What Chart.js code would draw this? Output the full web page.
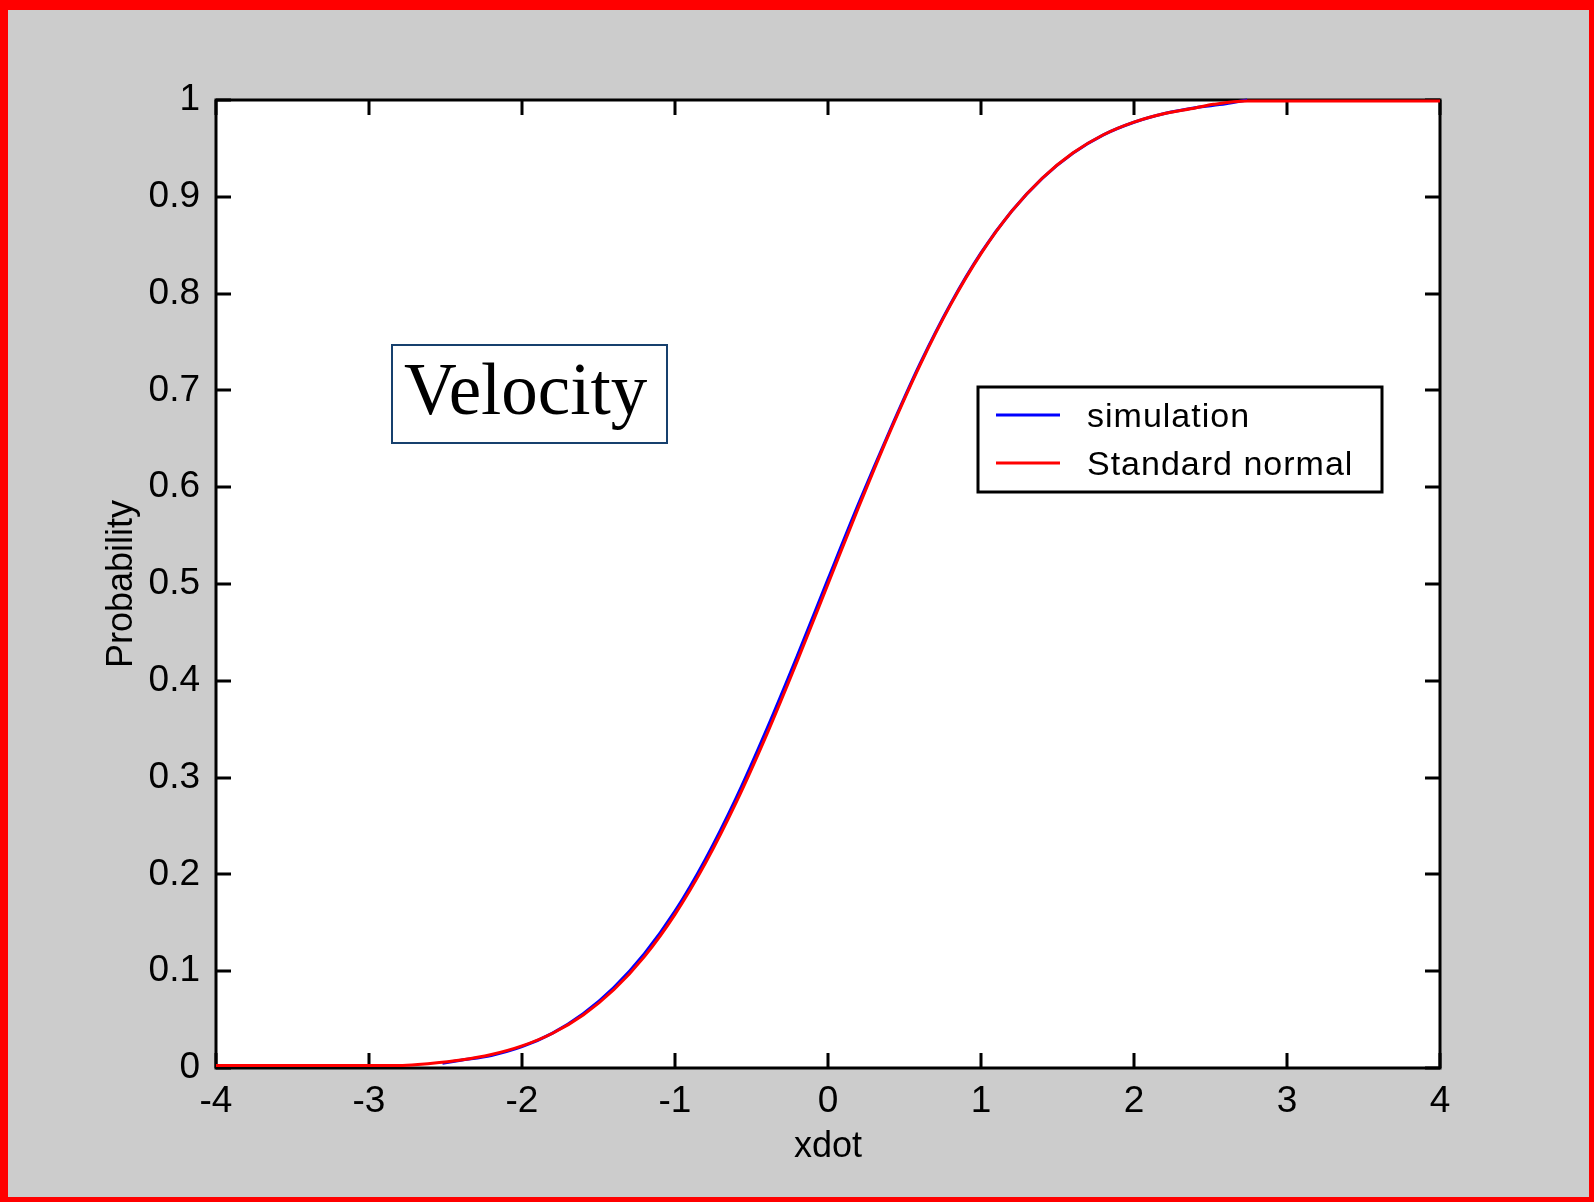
<!DOCTYPE html>
<html>
<head>
<meta charset="utf-8">
<script src="https://cdn.jsdelivr.net/npm/chart.js@4"></script>
<style>
  html, body { margin: 0; padding: 0; background: #cccccc; }
  #wrap { width: 1594px; height: 1202px; }
</style>
</head>
<body>
<div id="wrap"><canvas id="cdf" width="1594" height="1202"></canvas></div>
<script>
// Empirical CDF from the simulation (blue)
const simX = [-2.52, -2.4, -2.2, -2.0, -1.8, -1.6, -1.4, -1.2, -1.0, -0.8, -0.6, -0.4, -0.2, 0.0,
              0.2, 0.4, 0.6, 0.8, 1.0, 1.2, 1.4, 1.6, 1.8, 2.0, 2.2, 2.4, 2.6, 2.74];
const simY = [0.005, 0.008, 0.013, 0.022, 0.036, 0.056, 0.083, 0.118, 0.162, 0.216, 0.279, 0.350, 0.426, 0.505,
              0.583, 0.657, 0.727, 0.789, 0.842, 0.885, 0.919, 0.945, 0.964, 0.977, 0.986, 0.992, 0.996, 1.0];

// Standard normal CDF
const normX = [-4.0, -2.78, -2.6, -2.4, -2.2, -2.0, -1.8, -1.6, -1.4, -1.2, -1.0, -0.8, -0.6, -0.4, -0.2, 0.0,
               0.2, 0.4, 0.6, 0.8, 1.0, 1.2, 1.4, 1.6, 1.8, 2.0, 2.2, 2.4, 2.52, 2.74, 4.0];
const normY = [0.0027, 0.0027, 0.0047, 0.0082, 0.0139, 0.0228, 0.0359, 0.0548, 0.0808, 0.1151, 0.1587, 0.2119, 0.2743, 0.3446, 0.4207, 0.5,
               0.5793, 0.6554, 0.7257, 0.7881, 0.8413, 0.8849, 0.9192, 0.9452, 0.9641, 0.9772, 0.9861, 0.9918, 0.9955, 0.999, 0.999];

// Axes
const xTicks = [-4, -3, -2, -1, 0, 1, 2, 3, 4];
const xTickLabels = ["-4", "-3", "-2", "-1", "0", "1", "2", "3", "4"];
const yTicks = [0, 0.1, 0.2, 0.3, 0.4, 0.5, 0.6, 0.7, 0.8, 0.9, 1];
const yTickLabels = ["0", "0.1", "0.2", "0.3", "0.4", "0.5", "0.6", "0.7", "0.8", "0.9", "1"];

const seriesNames = ["simulation", "Standard normal"];
const seriesColors = ["#0000ff", "#ff0000"];

const toPoints = (xs, ys) => xs.map((v, i) => ({ x: v, y: ys[i] }));

const tickFont = { family: "Liberation Sans", size: 37 };
const labelFont = { family: "Liberation Sans", size: 36 };

// background, frame, inward ticks, legend and the Velocity box
const matlabFrame = {
  id: "matlabFrame",
  beforeDraw(chart) {
    const ctx = chart.ctx;
    const a = chart.chartArea;
    ctx.save();
    ctx.fillStyle = "#ff0000";
    ctx.fillRect(0, 0, chart.width, chart.height);
    ctx.fillStyle = "#cccccc";
    ctx.fillRect(8, 10, chart.width - 13, chart.height - 15);
    ctx.fillStyle = "#ffffff";
    ctx.fillRect(a.left, a.top, a.right - a.left, a.bottom - a.top);
    ctx.restore();
  },
  beforeDatasetsDraw(chart) {
    const { ctx, chartArea: a, scales: { x, y } } = chart;
    ctx.save();
    ctx.strokeStyle = "#000";
    ctx.lineWidth = 3;
    ctx.strokeRect(a.left, a.top, a.right - a.left, a.bottom - a.top);
    ctx.beginPath();
    x.ticks.forEach(t => {
      const px = Math.round(x.getPixelForValue(t.value));
      ctx.moveTo(px, a.bottom); ctx.lineTo(px, a.bottom - 15);
      ctx.moveTo(px, a.top); ctx.lineTo(px, a.top + 15);
    });
    y.ticks.forEach(t => {
      const py = Math.round(y.getPixelForValue(t.value));
      ctx.moveTo(a.left, py); ctx.lineTo(a.left + 15, py);
      ctx.moveTo(a.right, py); ctx.lineTo(a.right - 15, py);
    });
    ctx.stroke();
    ctx.restore();
  },
  afterDraw(chart) {
    const ctx = chart.ctx;
    ctx.save();
    // Velocity annotation
    ctx.fillStyle = "#ffffff";
    ctx.fillRect(392, 345, 275, 98);
    ctx.strokeStyle = "#17406d";
    ctx.lineWidth = 2;
    ctx.strokeRect(392, 345, 275, 98);
    ctx.fillStyle = "#000";
    ctx.font = "73px 'Liberation Serif'";
    ctx.textBaseline = "alphabetic";
    ctx.fillText("Velocity", 404, 414);

    // legend
    ctx.fillStyle = "#ffffff";
    ctx.fillRect(978, 387, 404, 105);
    ctx.strokeStyle = "#000";
    ctx.lineWidth = 3;
    ctx.strokeRect(978, 387, 404, 105);
    const rows = [415, 463];
    ctx.font = "34px 'Liberation Sans'";
    ctx.letterSpacing = "1px";
    seriesNames.forEach((name, i) => {
      ctx.strokeStyle = seriesColors[i];
      ctx.lineWidth = 3;
      ctx.beginPath();
      ctx.moveTo(996, rows[i]);
      ctx.lineTo(1060, rows[i]);
      ctx.stroke();
      ctx.fillStyle = "#000";
      ctx.fillText(name, 1087, rows[i] + 12);
    });
    ctx.restore();
  }
};

new Chart(document.getElementById("cdf"), {
  type: "line",
  data: {
    datasets: [
      {
        label: seriesNames[0],
        data: toPoints(simX, simY),
        borderColor: seriesColors[0],
        borderWidth: 3,
        pointRadius: 0,
        cubicInterpolationMode: "monotone",
        clip: false,
        order: 2
      },
      {
        label: seriesNames[1],
        data: toPoints(normX, normY),
        borderColor: seriesColors[1],
        borderWidth: 3,
        pointRadius: 0,
        cubicInterpolationMode: "monotone",
        clip: false,
        order: 1
      }
    ]
  },
  options: {
    responsive: false,
    devicePixelRatio: 1,
    animation: false,
    layout: { padding: { left: 100, top: 100, right: 154, bottom: 0 } },
    plugins: { legend: { display: false }, tooltip: { enabled: false } },
    scales: {
      x: {
        type: "linear",
        min: -4, max: 4,
        afterBuildTicks: s => { s.ticks = xTicks.map(v => ({ value: v })); },
        afterFit: s => { s.height = 134; },
        grid: { display: false, drawTicks: false },
        border: { display: false },
        ticks: { color: "#000", font: tickFont, padding: 12, maxRotation: 0,
                 callback: (v, i) => xTickLabels[i] },
        title: { display: true, text: "xdot", color: "#000", font: labelFont, padding: { top: 0, bottom: 33 } }
      },
      y: {
        type: "linear",
        min: 0, max: 1,
        afterBuildTicks: s => { s.ticks = yTicks.map(v => ({ value: v })); },
        afterFit: s => { s.width = 116; },
        grid: { display: false, drawTicks: false },
        border: { display: false },
        ticks: { color: "#000", font: tickFont, padding: 16,
                 callback: (v, i) => yTickLabels[i] },
        title: { display: true, text: "Probability", color: "#000", font: labelFont, padding: 0 }
      }
    }
  },
  plugins: [matlabFrame]
});
</script>
</body>
</html>
